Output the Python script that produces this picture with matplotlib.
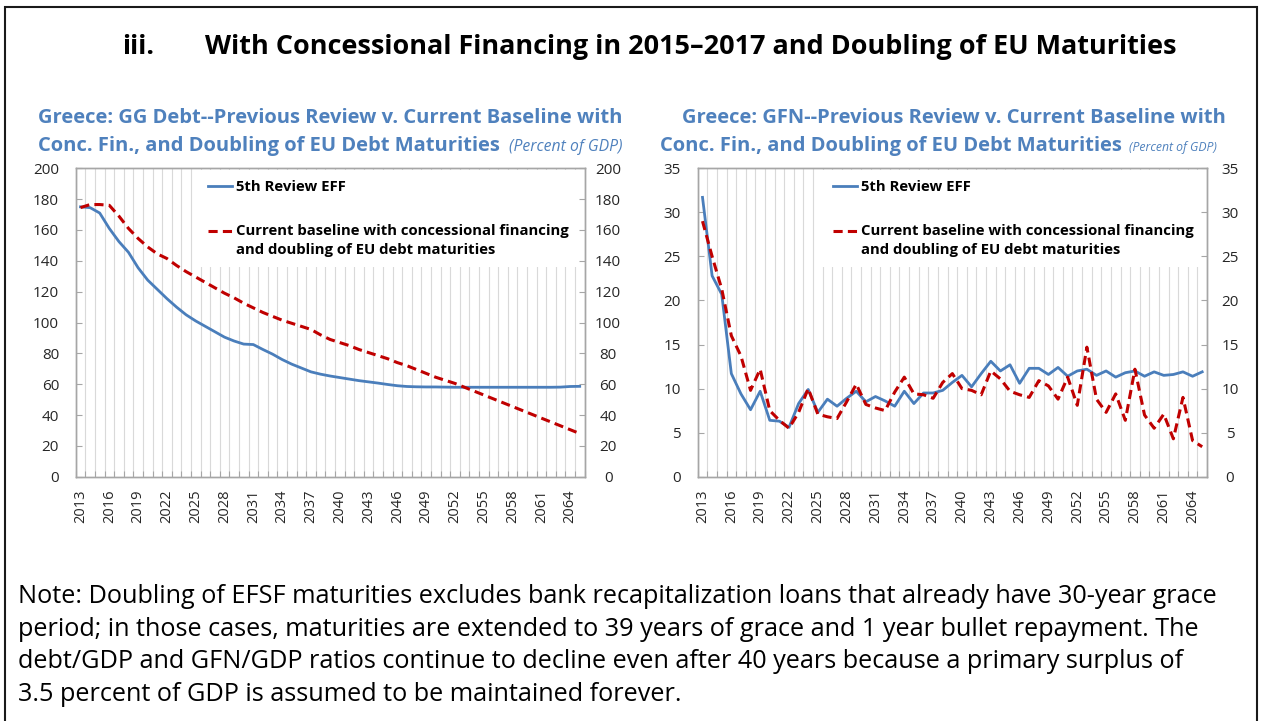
import numpy as np
import matplotlib
matplotlib.use("Agg")
import matplotlib.pyplot as plt
from matplotlib.legend_handler import HandlerLine2D
from matplotlib.patches import Rectangle

# ---------------- data ----------------
years = list(range(2013, 2066))

debt_5th_review = [175, 174.5, 171, 161, 152.5, 145.5, 135.5, 127.5, 121.5, 115.5,
                   110, 105, 101, 97.5, 94, 90.5, 88, 86, 85.7, 82.5,
                   79.5, 76, 73, 70.5, 68, 66.5, 65.3, 64.3, 63.3, 62.3,
                   61.5, 60.7, 59.8, 59, 58.5, 58.3, 58.2, 58.2, 58.1, 58,
                   58, 58, 58, 58, 58, 58, 58, 58, 58, 58,
                   58.1, 58.5, 58.6]
debt_current = [174.5, 176.5, 176.5, 176, 169, 161, 154.5, 149, 144.5, 141.5,
                137, 133, 129.5, 126, 122.5, 119, 116, 112.5, 109.5, 106.5,
                104, 101.5, 99.5, 97.5, 95.5, 92, 89, 87, 85, 82.5,
                80.5, 78.5, 76.5, 74, 72, 69.5, 67, 64.5, 62.5, 60.5,
                58, 55.5, 53, 50.5, 48, 45.5, 43, 40.5, 38, 35.5,
                33, 30.5, 28]

gfn_5th_review = [31.7, 22.8, 20.7, 11.7, 9.4, 7.6, 9.7, 6.4, 6.3, 5.6,
                  8.3, 9.9, 7.3, 8.8, 8.0, 8.9, 9.7, 8.5, 9.1, 8.6,
                  8.0, 9.7, 8.3, 9.5, 9.5, 9.8, 10.7, 11.5, 10.2, 11.7,
                  13.1, 12.0, 12.7, 10.6, 12.3, 12.3, 11.6, 12.4, 11.4, 12.0,
                  12.2, 11.5, 12.0, 11.3, 11.8, 12.0, 11.4, 11.9, 11.5, 11.6,
                  11.9, 11.4, 11.9]
gfn_current = [29.0, 25.0, 21.3, 16.0, 13.7, 9.8, 12.2, 7.5, 6.4, 5.5,
               7.3, 10.0, 7.1, 6.8, 6.6, 8.5, 10.5, 8.2, 7.8, 7.5,
               9.6, 11.3, 9.4, 9.3, 8.9, 10.7, 11.7, 10.0, 9.8, 9.3,
               12.0, 11.1, 9.7, 9.3, 9.0, 10.9, 10.3, 8.8, 11.3, 8.1,
               14.7, 8.8, 7.3, 9.4, 6.4, 12.2, 7.0, 5.5, 7.1, 4.3,
               9.0, 4.1, 3.4]

label_5th = "5th Review EFF"
label_cur = "Current baseline with concessional financing\nand doubling of EU debt maturities"

main_title_num = "iii."
main_title = "With Concessional Financing in 2015\u20132017 and Doubling of EU Maturities"
left_title_1 = "Greece: GG Debt--Previous Review v. Current Baseline with"
right_title_1 = "Greece: GFN--Previous Review v. Current Baseline with"
title_2 = "Conc. Fin., and Doubling of EU Debt Maturities"
unit_text = "(Percent of GDP)"
note_lines = [
    "Note: Doubling of EFSF maturities excludes bank recapitalization loans that already have 30-year grace",
    "period; in those cases, maturities are extended to 39 years of grace and 1 year bullet repayment. The",
    "debt/GDP and GFN/GDP ratios continue to decline even after 40 years because a primary surplus of",
    "3.5 percent of GDP is assumed to be maintained forever.",
]

# ---------------- style ----------------
plt.rcParams['font.family'] = ['Open Sans', 'DejaVu Sans']
BLUE = '#4A7EBB'
RED = '#C00000'
HEAD_BLUE = '#4F81BD'
GRID = '#D9D9D9'
SPINE = '#A6A6A6'
TXT = '#262626'

W, H = 1262, 721
fig = plt.figure(figsize=(W / 100, H / 100), dpi=100)


def fx(p):
    return p / W


def fy(p):
    return 1 - p / H


class FirstLineHandler(HandlerLine2D):
    def __init__(self, lift=0.0, **kw):
        super().__init__(**kw)
        self.lift = lift

    def create_artists(self, legend, orig_handle, xdescent, ydescent, width,
                       height, fontsize, trans):
        return super().create_artists(legend, orig_handle, xdescent,
                                      ydescent - 2 * self.lift * fontsize,
                                      width, height, fontsize, trans)


def panel(left_px, right_px, s5, scur, ymax, ystep, leg_left_px, rpad):
    top_px, bot_px = 168.3, 476.7
    ax = fig.add_axes([fx(left_px), fy(bot_px), (right_px - left_px) / W,
                       (bot_px - top_px) / H])
    x = np.arange(len(years))
    l1, = ax.plot(x, s5, color=BLUE, lw=2.0, zorder=3, solid_joinstyle='round')
    l2, = ax.plot(x, scur, color=RED, lw=2.2, ls=(0, (3, 1.7)), zorder=3)
    ax.set_xlim(-0.5, len(years) - 0.5)
    ax.set_ylim(0, ymax)
    yt = np.arange(0, ymax + ystep / 2, ystep)
    ax.set_yticks(yt)
    ax.set_yticklabels([f"{v:g}" for v in yt])
    ax.set_xticks(x[::3])
    ax.set_xticklabels([str(y) for y in years[::3]], rotation=90)
    ax.set_xticks(np.arange(-0.5, len(years), 1), minor=True)
    ax.tick_params(axis='x', which='major', length=0, pad=9, labelsize=10.5,
                   labelcolor=TXT)
    ax.tick_params(axis='x', which='minor', direction='in', length=4,
                   color=SPINE, width=0.8)
    ax.tick_params(axis='y', direction='in', length=4, color=SPINE, width=0.8,
                   labelsize=11, pad=12, labelcolor=TXT)
    ax.grid(which='minor', axis='x', color=GRID, lw=0.8)
    ax.set_axisbelow(True)
    for s in ax.spines.values():
        s.set_color(SPINE)
        s.set_linewidth(1.0)

    ax2 = ax.twinx()
    ax2.set_ylim(0, ymax)
    ax2.set_yticks(yt)
    ax2.set_yticklabels([f"{v:g}" for v in yt])
    ax2.tick_params(axis='y', direction='in', length=4, color=SPINE, width=0.8,
                    labelsize=11, pad=rpad, labelcolor=TXT)
    for lab in ax2.get_yticklabels():
        lab.set_horizontalalignment('center')
    for s in ax2.spines.values():
        s.set_color(SPINE)
        s.set_linewidth(1.0)

    leg = ax.legend([l1, l2], [label_5th, label_cur], loc='upper left',
                    bbox_to_anchor=((leg_left_px - left_px) / (right_px - left_px), 0.996),
                    borderaxespad=0, borderpad=0.7, frameon=True, fancybox=False,
                    edgecolor='none', facecolor='white', framealpha=1,
                    handlelength=1.6, handletextpad=0.27, labelspacing=2.05,
                    prop={'weight': 'bold', 'size': 10.7},
                    handler_map={l2: FirstLineHandler(lift=0.66)})
    leg.set_zorder(2)
    for t in leg.get_texts():
        t.set_color('black')
        t.set_linespacing(1.38)
    return ax


panel(75.7, 584.5, debt_5th_review, debt_current, 200, 20, 197.5, 17)
panel(697.7, 1207.0, gfn_5th_review, gfn_current, 35, 5, 822.5, 16.5)

fig.canvas.draw()
R = fig.canvas.get_renderer()


def put(px, py, s, target_w=None, **kw):
    t = fig.text(fx(px), fy(py), s, **kw)
    if target_w:
        w = t.get_window_extent(renderer=R).width
        t.set_fontsize(t.get_fontsize() * target_w / w)
    return t


def right_edge(t):
    return t.get_window_extent(renderer=R).x1


# main title
tt = put(205, 54, main_title, target_w=967, fontsize=19, weight='bold',
         ha='left', va='baseline', color='black')
put(122, 54, main_title_num, fontsize=tt.get_fontsize(), weight='bold',
    ha='left', va='baseline', color='black')

# panel titles
st = put(38, 123, left_title_1, target_w=586, fontsize=14, weight='bold',
         ha='left', va='baseline', color=HEAD_BLUE)
sfs = st.get_fontsize()
put(953.5, 123, right_title_1, fontsize=sfs, weight='bold', ha='center',
    va='baseline', color=HEAD_BLUE)
a = put(38, 151, title_2, fontsize=sfs, weight='bold', ha='left', va='baseline',
        color=HEAD_BLUE)
put(right_edge(a) + 9, 151, unit_text, target_w=113, fontsize=10,
    style='italic', ha='left', va='baseline', color=HEAD_BLUE)
b = put(660, 151, title_2, fontsize=sfs, weight='bold', ha='left',
        va='baseline', color=HEAD_BLUE)
put(right_edge(b) + 7, 151, unit_text, target_w=88, fontsize=9,
    style='italic', ha='left', va='baseline', color=HEAD_BLUE)

# note
n0 = put(18, 603, note_lines[0], target_w=1201, fontsize=16, ha='left',
         va='baseline', color='black')
nfs = n0.get_fontsize()
for i, line in enumerate(note_lines[1:], start=1):
    put(18, 603 + 32.7 * i, line, fontsize=nfs, ha='left', va='baseline',
        color='black')

# outer border
fig.patches.append(Rectangle((fx(5), fy(735)), (1257 - 5) / W, (735 - 7) / H,
                             transform=fig.transFigure, fill=False,
                             edgecolor='#1a1a1a', lw=1.5))

fig.savefig("out.png", dpi=100, facecolor='white')
